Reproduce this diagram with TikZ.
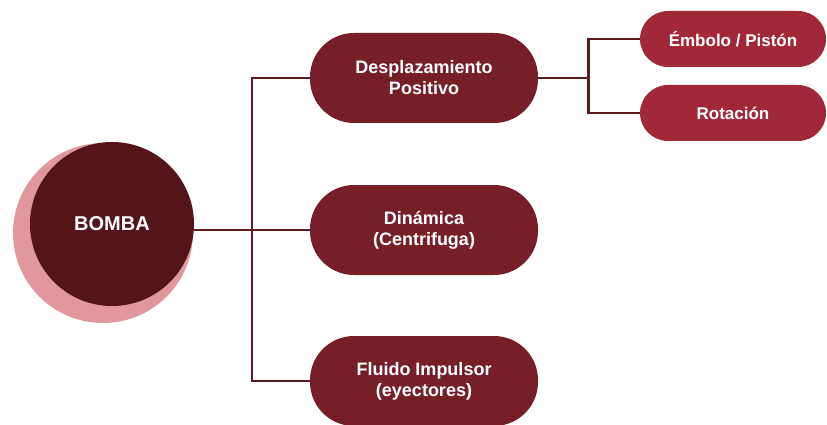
\documentclass[tikz,border=0pt]{standalone}
\usepackage{fontspec}
\setmainfont{Liberation Sans}
\usetikzlibrary{backgrounds}
\definecolor{shadowpink}{HTML}{E0989E}
\definecolor{circdark}{HTML}{54151A}
\definecolor{boxdark}{HTML}{771F29}
\definecolor{boxlight}{HTML}{A12836}
\definecolor{linecol}{HTML}{5E1A22}
\begin{document}
\begin{tikzpicture}[x=1pt,y=-1pt,
  bigbox/.style={rectangle, rounded corners=44pt, fill=boxdark, minimum width=228pt, minimum height=90pt, text=white, font=\fontsize{18}{21}\selectfont\bfseries, align=center, inner sep=0pt},
  smallbox/.style={rectangle, rounded corners=28pt, fill=boxlight, minimum width=186pt, minimum height=56pt, text=white, font=\fontsize{17}{20}\selectfont\bfseries, align=center, inner sep=0pt},
  conn/.style={draw=linecol, line width=2.6pt}]
\useasboundingbox (0,0) rectangle (827,425);
\node[circle, fill=shadowpink, minimum size=180pt, inner sep=0pt] (shadow) at (103,233) {};
\node[circle, fill=circdark, minimum size=164pt, inner sep=0pt, text=white, font=\fontsize{20}{24}\selectfont\bfseries] (bomba) at (112,224) {BOMBA};
\node[bigbox] (desp) at (424,78) {Desplazamiento\\Positivo};
\node[bigbox] (dyn) at (424,230) {Dinámica\\(Centrifuga)};
\node[bigbox] (flu) at (424,381) {Fluido Impulsor\\(eyectores)};
\node[smallbox] (emb) at (733,39) {Émbolo / Pistón};
\node[smallbox] (rot) at (733,113) {Rotación};
\begin{scope}[on background layer]
\draw[conn] (bomba.center |- dyn.west) -- (dyn.west);
\end{scope}
\draw[conn] (desp.west) -- ++(-58,0) coordinate (vtop) |- (flu.west);
\draw[conn] (desp.east) -- ++(50,0) coordinate (fork);
\draw[conn] (emb.west) -| (fork) |- (rot.west);
\end{tikzpicture}
\end{document}
